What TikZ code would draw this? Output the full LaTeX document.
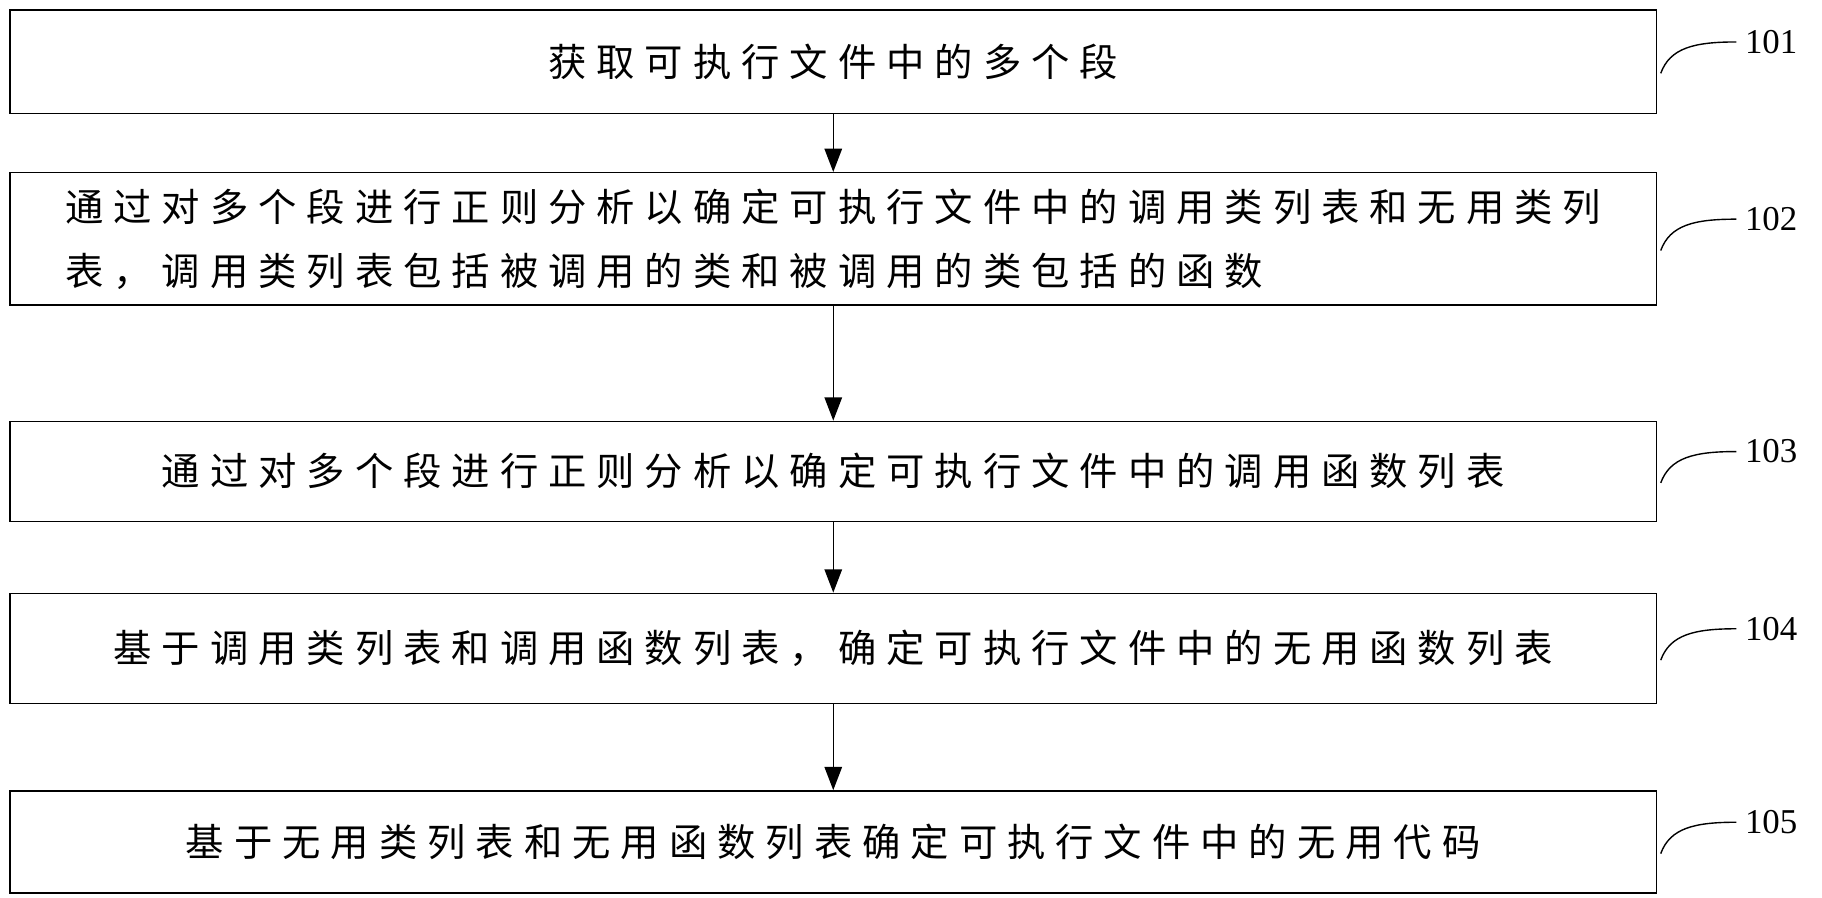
\documentclass[tikz,border=0pt]{standalone}
\usepackage{fontspec}
\setmainfont{Liberation Serif}
\newfontfamily\cjk[LetterSpace=26]{Noto Sans CJK SC}
\usetikzlibrary{arrows.meta}
\begin{document}
\begin{tikzpicture}[x=1pt,y=-1pt,
  stepbox/.style={draw,line width=1.2pt,anchor=north west,inner sep=0pt},
  arr/.style={-{Triangle[length=20pt,width=15pt]},line width=1.3pt},
  lead/.style={line width=1.2pt},
  lbl/.style={font=\fontsize{30}{30}\selectfont,anchor=west}]
\useasboundingbox (0,0) rectangle (1568,772);
\tikzset{txt/.style={font=\cjk\fontsize{33}{55}\selectfont}}
\node[stepbox,minimum width=1417pt,minimum height=89pt] (b1) at (8,8) {};
\node[stepbox,minimum width=1417pt,minimum height=114pt] (b2) at (8,148) {};
\node[stepbox,minimum width=1417pt,minimum height=86pt] (b3) at (8,362) {};
\node[stepbox,minimum width=1417pt,minimum height=95pt] (b4) at (8,510) {};
\node[stepbox,minimum width=1417pt,minimum height=88pt] (b5) at (8,680) {};
\node[txt] (t1) at (b1.center) {获取可执行文件中的多个段};
\node[txt,align=left] (t2) at (b2.center) {通过对多个段进行正则分析以确定可执行文件中的调用类列表和无用类列\\表，调用类列表包括被调用的类和被调用的类包括的函数};
\node[txt] (t3) at (b3.center) {通过对多个段进行正则分析以确定可执行文件中的调用函数列表};
\node[txt] (t4) at (b4.center) {基于调用类列表和调用函数列表，确定可执行文件中的无用函数列表};
\node[txt] (t5) at (b5.center) {基于无用类列表和无用函数列表确定可执行文件中的无用代码};
\draw[arr] (b1.south) -- (b2.north);
\draw[arr] (b2.south) -- (b3.north);
\draw[arr] (b3.south) -- (b4.north);
\draw[arr] (b4.south) -- (b5.north);
\foreach \b/\n in {b1/101,b2/102,b3/103,b4/104,b5/105}{
  \node[lbl] (l\n) at ([xshift=72pt,yshift=17pt]\b.east) {\n};
  \coordinate (s\n) at ([xshift=3pt,yshift=-10pt]\b.east);
  \draw[lead] (s\n) .. controls ([xshift=8pt,yshift=22pt]s\n) and ([xshift=-40pt,yshift=0pt]l\n.west) .. ([xshift=-4pt]l\n.west);
}
\end{tikzpicture}
\end{document}
